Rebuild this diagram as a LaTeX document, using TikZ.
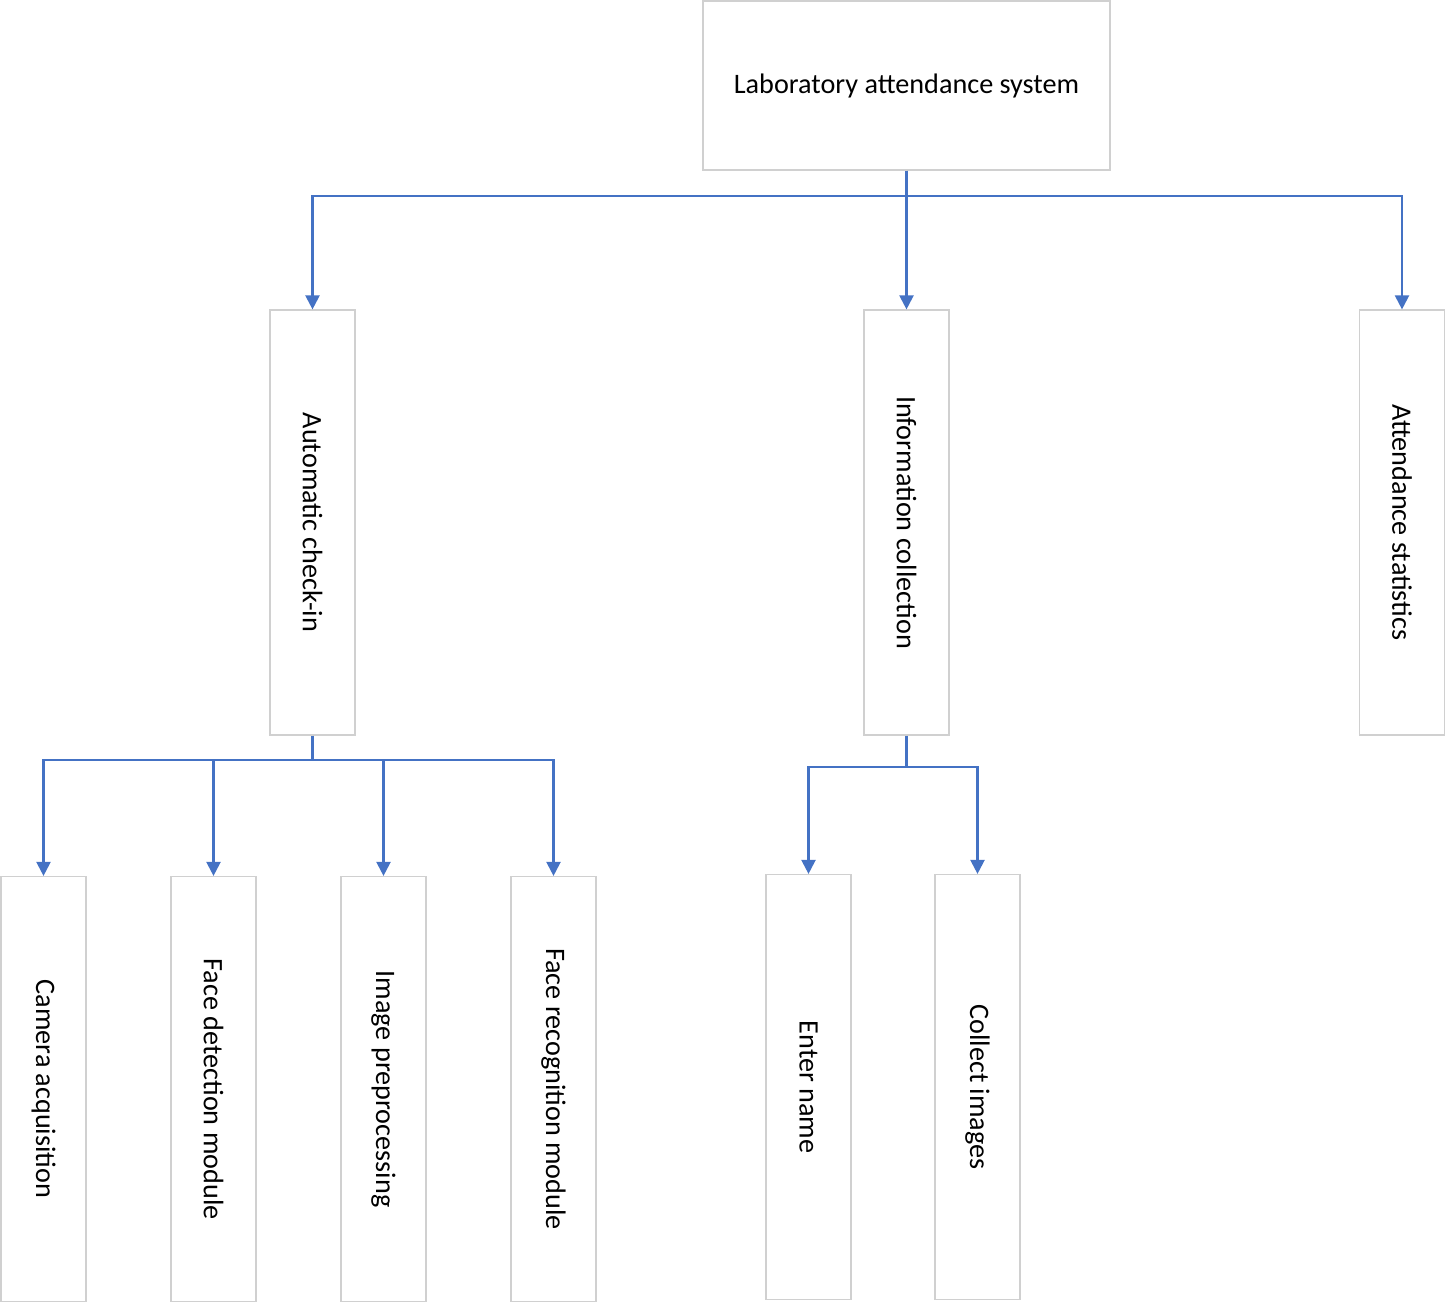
\documentclass[tikz,border=0pt]{standalone}
\usepackage{fontspec}
\setmainfont{Carlito}
\usetikzlibrary{arrows.meta}
\definecolor{conncol}{HTML}{4472C4}
\definecolor{boxcol}{HTML}{D0D0D0}
\begin{document}
\begin{tikzpicture}[x=0.5pt,y=-0.5pt,
  box/.style={draw=boxcol,line width=0.6pt,fill=white,inner sep=0pt,font=\fontsize{14.1}{17}\selectfont},
  vbox/.style={box,minimum width=42.5pt,minimum height=212.5pt},
  conn/.style={draw=conncol,line width=1.1pt,-{Triangle[width=7pt,length=7pt]}}]
\useasboundingbox (0,0) rectangle (1446,1302);
\node[box,minimum width=203.5pt,minimum height=84.5pt] (top) at (906.5,85.5) {Laboratory attendance system};
\node[vbox] (auto) at (312.5,522.5) {\rotatebox[origin=c]{-90}{Automatic check-in}};
\node[vbox] (info) at (906.5,522.5) {\rotatebox[origin=c]{-90}{Information collection}};
\node[vbox] (stat) at (1402,522.5) {\rotatebox[origin=c]{-90}{Attendance statistics}};
\node[vbox] (cam) at (43.5,1089) {\rotatebox[origin=c]{-90}{Camera acquisition}};
\node[vbox] (fd) at (213.5,1089) {\rotatebox[origin=c]{-90}{Face detection module}};
\node[vbox] (ip) at (383.5,1089) {\rotatebox[origin=c]{-90}{Image preprocessing}};
\node[vbox] (fr) at (553.5,1089) {\rotatebox[origin=c]{-90}{Face recognition module}};
\node[vbox] (en) at (808.5,1087) {\rotatebox[origin=c]{-90}{Enter name}};
\node[vbox] (ci) at (977.5,1087) {\rotatebox[origin=c]{-90}{Collect images}};
\coordinate (b1) at (906.5,196);
\coordinate (b2) at (312.5,760);
\coordinate (b3) at (906.5,767);
\draw[conn] (top.south) -- (b1) -| (auto.north);
\draw[conn] (top.south) -- (info.north);
\draw[conn] (b1) -| (stat.north);
\draw[conn] (auto.south) -- (b2) -| (cam.north);
\draw[conn] (b2) -| (fd.north);
\draw[conn] (b2) -| (ip.north);
\draw[conn] (b2) -| (fr.north);
\draw[conn] (info.south) -- (b3) -| (en.north);
\draw[conn] (b3) -| (ci.north);
\end{tikzpicture}
\end{document}
